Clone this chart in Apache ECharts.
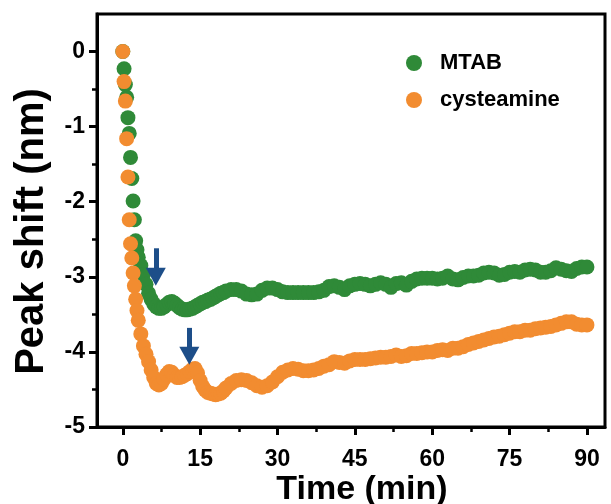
<!doctype html>
<html>
<head>
<meta charset="utf-8">
<title>Peak shift</title>
<script src="https://cdn.jsdelivr.net/npm/echarts@6/dist/echarts.min.js"></script>
<style>
  html, body { margin: 0; padding: 0; background: #fff; }
  #main { width: 611px; height: 504px; }
</style>
</head>
<body>
<div id="main"></div>
<script>
// sampling times (min)
var time = [0, 0.25, 0.5, 0.75, 1, 1.25, 1.5, 1.75, 2, 2.25, 2.5, 2.75, 3,
  3.5, 4, 4.5, 5, 5.5, 6, 6.5, 7, 7.5, 8, 8.5, 9, 9.5, 10, 10.5, 11, 11.5, 12, 12.5, 13,
  13.5, 14, 14.5, 15, 15.5, 16, 16.5, 17, 17.5, 18, 18.5, 19, 19.5, 20,
  21, 22, 23, 24, 25, 26, 27, 28, 29, 30, 31, 32, 33, 34, 35, 36, 37, 38, 39, 40,
  41, 42, 43, 44, 45, 46, 47, 48, 49, 50, 51, 52, 53, 54, 55, 56, 57, 58, 59, 60,
  61, 62, 63, 64, 65, 66, 67, 68, 69, 70, 71, 72, 73, 74, 75, 76, 77, 78, 79, 80,
  81, 82, 83, 84, 85, 86, 87, 88, 89, 90];

var mtab = [0, -0.23, -0.44, -0.61, -0.88, -1.09, -1.41, -1.69, -1.99, -2.24, -2.52, -2.64, -2.74,
  -2.85, -2.97, -3.10, -3.22, -3.30, -3.36, -3.40, -3.42, -3.42, -3.40,
  -3.37, -3.34, -3.33, -3.35, -3.38, -3.41, -3.43, -3.44, -3.44, -3.43,
  -3.42, -3.40, -3.38, -3.36, -3.34, -3.33, -3.31, -3.30, -3.28, -3.26,
  -3.24, -3.22, -3.21, -3.19,
  -3.17, -3.17, -3.19, -3.23, -3.24, -3.23, -3.18, -3.15, -3.15, -3.17,
  -3.20, -3.21, -3.21, -3.21, -3.21, -3.21, -3.21, -3.20, -3.18, -3.13,
  -3.12, -3.14, -3.17, -3.12, -3.10, -3.09, -3.10, -3.12, -3.10, -3.08,
  -3.10, -3.14, -3.09, -3.08, -3.11, -3.06, -3.03, -3.02, -3.02, -3.02,
  -3.03, -3.02, -2.99, -3.03, -3.04, -3.01, -2.99, -2.99, -2.98, -2.95,
  -2.94, -2.95, -2.98, -2.97, -2.94, -2.93, -2.94, -2.91, -2.90, -2.91,
  -2.94, -2.94, -2.92, -2.88, -2.90, -2.92, -2.93, -2.89, -2.87, -2.87];

var cysteamine = [0, -0.40, -0.66, -1.16, -1.67, -2.24, -2.56, -2.75, -2.95, -3.12, -3.30, -3.45, -3.58,
  -3.76, -3.92, -4.03, -4.13, -4.24, -4.34, -4.42, -4.44, -4.42, -4.36,
  -4.30, -4.26, -4.27, -4.31, -4.34, -4.34, -4.33, -4.31, -4.29, -4.26,
  -4.23, -4.22, -4.28, -4.38, -4.46, -4.51, -4.54, -4.55, -4.56, -4.57,
  -4.56, -4.55, -4.52, -4.48,
  -4.42, -4.38, -4.37, -4.38, -4.41, -4.45, -4.47, -4.45, -4.40, -4.33,
  -4.27, -4.24, -4.22, -4.23, -4.25, -4.25, -4.24, -4.22, -4.19, -4.17,
  -4.13, -4.14, -4.15, -4.12, -4.10, -4.10, -4.10, -4.09, -4.08, -4.07,
  -4.07, -4.06, -4.04, -4.06, -4.05, -4.02, -4.02, -4.01, -4.00, -4.00,
  -3.98, -3.97, -3.98, -3.95, -3.95, -3.93, -3.90, -3.88, -3.86, -3.84,
  -3.82, -3.80, -3.79, -3.77, -3.75, -3.73, -3.73, -3.71, -3.71, -3.69,
  -3.68, -3.67, -3.66, -3.64, -3.62, -3.60, -3.60, -3.63, -3.64, -3.64];

var xTicks = [0, 15, 30, 45, 60, 75, 90];
var xMinor = [7.5, 22.5, 37.5, 52.5, 67.5, 82.5];
var yTicks = [-5, -4, -3, -2, -1, 0];
var yMinor = [-4.5, -3.5, -2.5, -1.5, -0.5];

// arrows: [x, start y, end y]
var arrows = [[6.4, -2.62, -3.0], [12.9, -3.68, -4.05]];

var font = "'Liberation Sans', Arial, sans-serif";

function pairs(ys) {
  return time.map(function (t, i) { return [t, ys[i]]; });
}

var myChart = echarts.init(document.getElementById('main'));

var option = {
  animation: false,
  backgroundColor: '#fff',
  grid: {
    left: 97, right: 6, top: 14, bottom: 77,
    containLabel: false, outerBoundsMode: 'none',
    show: true, borderColor: '#000', borderWidth: 3
  },
  legend: {
    orient: 'vertical',
    left: 401, top: 47,
    icon: 'circle',
    itemWidth: 16, itemHeight: 16,
    itemGap: 15,
    textStyle: { fontFamily: font, fontWeight: 'bold', fontSize: 22, color: '#000', padding: [0, 0, 0, 13] },
    data: ['MTAB', 'cysteamine']
  },
  xAxis: [{
    type: 'value', min: -5, max: 93.5,
    name: 'Time (min)', nameLocation: 'middle', nameGap: 46, nameMoveOverlap: false,
    nameTextStyle: { fontFamily: font, fontWeight: 'bold', fontSize: 34, color: '#000', padding: [0, 0, 0, 22] },
    axisLine: { onZero: false, lineStyle: { color: '#000', width: 3 } },
    axisTick: { inside: false, length: 8, lineStyle: { color: '#000', width: 3 }, customValues: xTicks },
    axisLabel: { margin: 21, fontFamily: font, fontWeight: 'bold', fontSize: 23, color: '#000', customValues: xTicks },
    splitLine: { show: false }
  }, {
    type: 'value', min: -5, max: 93.5, position: 'bottom',
    axisLine: { show: false, onZero: false },
    axisTick: { length: 5, lineStyle: { color: '#000', width: 2.5 }, customValues: xMinor },
    axisLabel: { show: false },
    splitLine: { show: false }
  }],
  yAxis: [{
    type: 'value', min: -5, max: 0.5,
    name: 'Peak shift (nm)', nameLocation: 'middle', nameGap: 45,
    nameTextStyle: { fontFamily: font, fontWeight: 'bold', fontSize: 40, color: '#000', padding: [0, 22, 0, 0] },
    axisLine: { show: true, onZero: false, lineStyle: { color: '#000', width: 3 } },
    axisTick: { show: true, length: 8, lineStyle: { color: '#000', width: 3 }, customValues: yTicks },
    axisLabel: { margin: 12, fontFamily: font, fontWeight: 'bold', fontSize: 23, color: '#000', customValues: yTicks },
    splitLine: { show: false }
  }, {
    type: 'value', min: -5, max: 0.5, position: 'left',
    axisLine: { show: false, onZero: false },
    axisTick: { show: true, length: 5, lineStyle: { color: '#000', width: 2.5 }, customValues: yMinor },
    axisLabel: { show: false },
    splitLine: { show: false }
  }],
  series: [{
    name: 'MTAB', type: 'scatter',
    symbolSize: 15,
    itemStyle: { color: '#2f8a38', opacity: 1 },
    data: pairs(mtab),
    markLine: {
      silent: true, symbol: ['none', 'triangle'], symbolSize: [20, 18],
      label: { show: false },
      lineStyle: { color: '#1d4e89', width: 5, type: 'solid' },
      data: arrows.map(function (a) { return [{ coord: [a[0], a[1]] }, { coord: [a[0], a[2]] }]; })
    }
  }, {
    name: 'cysteamine', type: 'scatter',
    symbolSize: 15,
    itemStyle: { color: '#f28c30', opacity: 1 },
    data: pairs(cysteamine)
  }]
};

myChart.setOption(option);
</script>
</body>
</html>
